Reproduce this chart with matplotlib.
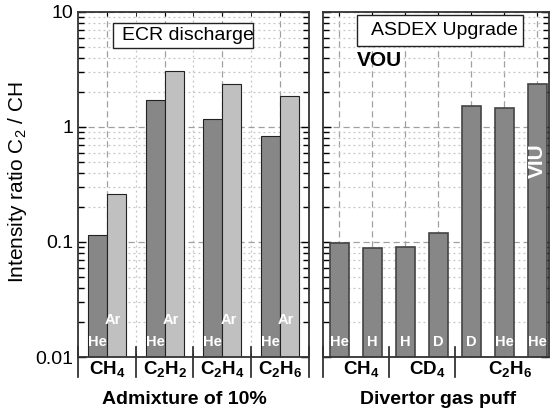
import numpy as np
import matplotlib.pyplot as plt
from matplotlib.patches import Rectangle
from matplotlib.ticker import LogLocator, NullFormatter

plt.rcParams['font.family'] = ['Liberation Sans', 'DejaVu Sans']
plt.rcParams['mathtext.fontset'] = 'custom'
plt.rcParams['mathtext.rm'] = 'Liberation Sans'
plt.rcParams['mathtext.it'] = 'Liberation Sans:italic'
plt.rcParams['mathtext.bf'] = 'Liberation Sans:bold'

# ECR discharge, admixture of 10 %
ecr_gases = [r'$\mathbf{CH_4}$', r'$\mathbf{C_2H_2}$', r'$\mathbf{C_2H_4}$', r'$\mathbf{C_2H_6}$']
ecr_carriers = ['He', 'Ar']
ecr_he = [0.111, 1.72, 1.17, 0.836]
ecr_ar = [0.256, 3.05, 2.35, 1.85]

# ASDEX Upgrade, divertor gas puff
aug_values = [0.093, 0.083, 0.086, 0.114, 1.52, 1.47, 2.35]
aug_carrier = ['He', 'H', 'H', 'D', 'D', 'He', 'He']
aug_groups = [r'$\mathbf{CH_4}$', r'$\mathbf{CD_4}$', r'$\mathbf{C_2H_6}$']
aug_group_size = [2, 2, 3]

dark = '#878787'
light = '#c0c0c0'


def style_axis(ax):
    ax.set_yscale('log')
    ax.set_ylim(0.01, 10)
    ax.yaxis.set_major_locator(LogLocator(10))
    ax.yaxis.set_minor_locator(LogLocator(10, subs=np.arange(2, 10)))
    ax.yaxis.set_minor_formatter(NullFormatter())
    ax.set_axisbelow(True)
    ax.grid(which='major', ls=(0, (5, 3)), color='#a0a0a0', lw=0.9)
    ax.grid(which='minor', ls=(0, (1.5, 2.5)), color='#c4c4c4', lw=0.9)
    ax.tick_params(axis='y', which='both', direction='in', left=True, right=True, width=1, labelsize=14)
    ax.tick_params(axis='y', which='major', length=6)
    ax.tick_params(axis='y', which='minor', length=4)
    ax.tick_params(axis='x', which='both', direction='in', top=True, bottom=True, length=3, labelbottom=False)
    for s in ax.spines.values():
        s.set_linewidth(1.3)
        s.set_color('#333333')


def dividers(ax, xs):
    trans = ax.get_xaxis_transform()
    for b in xs:
        ax.plot([b, b], [0.029, -0.058], transform=trans, clip_on=False, color='#222222', lw=1.2)


def label_box(ax, x0, y0, x1, y1, tx, text):
    ax.add_patch(Rectangle((x0, y0), x1 - x0, y1 - y0, transform=ax.transAxes,
                           fc='white', ec='#222222', lw=1, zorder=3))
    ax.text(tx, (y0 + y1) / 2, text, transform=ax.transAxes, ha='left', va='center',
            fontsize=14, zorder=4)


fig = plt.figure(figsize=(5.54, 4.18), dpi=100)
ax1 = fig.add_axes([78 / 554, 61 / 418, 231 / 554, 345 / 418])
ax2 = fig.add_axes([323 / 554, 61 / 418, 226 / 554, 345 / 418])

# left panel
x1 = np.arange(len(ecr_gases)) + 0.5
w1 = 0.33
style_axis(ax1)
ax1.bar(x1 - w1 / 2, ecr_he, w1, bottom=0.005, color=dark, edgecolor='#222222', lw=0.8)
ax1.bar(x1 + w1 / 2, ecr_ar, w1, bottom=0.005, color=light, edgecolor='#222222', lw=0.8)
ax1.set_xlim(0, len(ecr_gases))
ax1.set_xticks(x1)
ax1.set_xticks(np.arange(1, len(ecr_gases)), minor=True)
ax1.grid(which='minor', axis='x', ls=(0, (1.5, 2.5)), color='#c4c4c4', lw=0.9)
ax1.set_yticks([0.01, 0.1, 1, 10], ['0.01', '0.1', '1', '10'])
trans1 = ax1.get_xaxis_transform()
for i, x in enumerate(x1):
    ax1.text(x - w1 / 2, 0.043, ecr_carriers[0], transform=trans1, ha='center', va='center',
             color='white', fontweight='bold', fontsize=10.5)
    ax1.text(x + w1 / 2 - 0.06, 0.107, ecr_carriers[1], transform=trans1, ha='center', va='center',
             color='white', fontweight='bold', fontsize=10.5)
    ax1.text(x, -0.050, ecr_gases[i], transform=trans1, ha='center', va='baseline', fontsize=13.5)
dividers(ax1, np.arange(0, len(ecr_gases) + 1))
ax1.text(0.461, -0.136, 'Admixture of 10%', transform=ax1.transAxes, ha='center', va='baseline',
         fontsize=14, fontweight='bold')
label_box(ax1, 0.1515, 0.8957, 0.7576, 0.968, 0.19, 'ECR discharge')

# right panel
x2 = np.arange(len(aug_values)) + 0.5
w2 = 0.6
style_axis(ax2)
ax2.bar(x2, aug_values, w2, bottom=0.005, color=dark, edgecolor='#444444', lw=1.2)
ax2.set_xlim(0, 6.85)
ax2.set_xticks(x2)
ax2.tick_params(axis='y', labelleft=False)
trans2 = ax2.get_xaxis_transform()
for x, lab in zip(x2, aug_carrier):
    ax2.text(x, 0.043, lab, transform=trans2, ha='center', va='center',
             color='white', fontweight='bold', fontsize=10.5)
edges = np.concatenate([[0], np.cumsum(aug_group_size)])
dividers(ax2, edges[:-1])
for i, lab in enumerate(aug_groups):
    c = x2[edges[i]:edges[i + 1]].mean() + 0.17
    ax2.text(c, -0.050, lab, transform=trans2, ha='center', va='baseline', fontsize=13.5)
ax2.text(0.509, -0.136, 'Divertor gas puff', transform=ax2.transAxes, ha='center', va='baseline',
         fontsize=14, fontweight='bold')
label_box(ax2, 0.150, 0.901, 0.885, 0.991, 0.212, 'ASDEX Upgrade')
ax2.text(0.25, 0.858, 'VOU', transform=ax2.transAxes, ha='center', va='center', fontsize=15,
         fontweight='bold')
ax2.text(x2[-1], 0.568, 'VIU', transform=trans2, ha='center', va='center', rotation=90,
         color='white', fontweight='bold', fontsize=15)

fig.text(18 / 554, (418 - 182) / 418, 'Intensity ratio C$_2$ / CH', rotation=90, ha='center', va='center',
         fontsize=15)

fig.savefig('out.png', dpi=100)
